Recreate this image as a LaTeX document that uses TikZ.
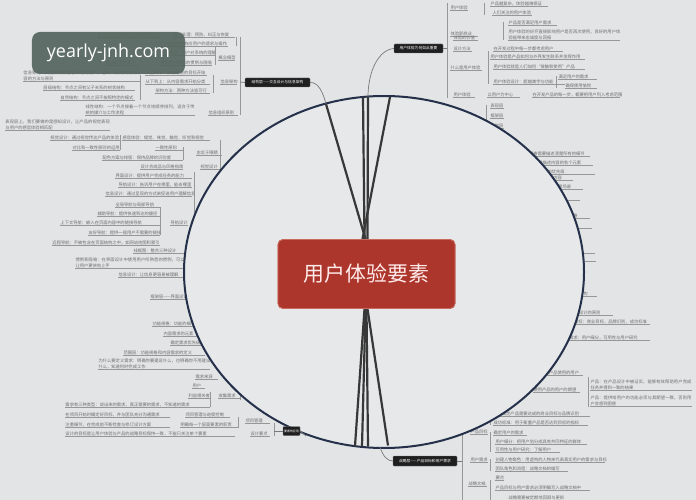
\documentclass[tikz,border=0pt]{standalone}
\usepackage{fontspec}
\newfontfamily\cjk{Noto Sans CJK SC}
\newfontfamily\wmf{Open Sans}
\XeTeXlinebreaklocale "zh"
\XeTeXlinebreakskip = 0pt plus 1pt
\definecolor{bgc}{HTML}{E2E4E5}
\definecolor{ellfill}{HTML}{E6E8E9}
\definecolor{ellline}{HTML}{25304A}
\definecolor{itemc}{HTML}{6E6E6E}
\definecolor{ulc}{HTML}{979797}
\definecolor{corec}{HTML}{383838}
\definecolor{redc}{HTML}{AC362B}
\definecolor{redb}{HTML}{C96A5E}
\definecolor{wmc}{HTML}{56665F}
\tikzset{
  itm/.style={font=\cjk\fontsize{4.3}{5.4}\selectfont, text=itemc, inner sep=0.3bp, anchor=south west},
  uln/.style={draw=ulc, line width=0.5bp},
  brk/.style={draw=ulc, line width=0.6bp},
  conn/.style={draw=ulc!80!black, line width=0.7bp},
  ell/.style={draw=ellline, fill=ellfill, line width=2bp},
  core/.style={draw=corec, line width=2.2bp},
  dlab/.style={fill=black!88, draw=black!55, rounded corners=0.8bp, text=white, inner sep=0pt, font=\cjk\fontsize{3.8}{4.2}\selectfont},
  centre/.style={fill=redc, draw=redb, line width=0.8bp, rounded corners=5bp, minimum width=177bp, minimum height=69bp, text=white!92!red, font=\cjk\fontsize{21}{24}\selectfont},
  wmark/.style={fill=wmc, fill opacity=0.93, text opacity=1, rounded corners=8bp, minimum width=153bp, minimum height=42bp, text=white, font=\wmf\fontsize{18}{20}\selectfont}
}
\newcommand\I[5]{\node[itm] (#1) at (#2,#3) {#5}; \draw[uln] (#1.south west) -- ++(#4,0);}
\newcommand\II[5]{\node[itm, text width=#4bp, align=left] (#1) at (#2,#3) {#5}; \draw[uln] (#1.south west) -- ++(#4,0);}
\newcommand\B[3]{\draw[brk] (#1,#2) -- (#1,#3);}
\begin{document}
\begin{tikzpicture}[x=1bp,y=-1bp]
\useasboundingbox (0,0) rectangle (696,500);
\fill[bgc] (0,0) rectangle (696,500);
% ---------- top-left cluster
\I{i1}{97}{37}{63}{交互设计关注描述可能的用户行为}
\I{i2}{173}{37}{62}{错误处理：预防、纠正与恢复}
\I{i3}{158}{46}{70}{定义系统如何响应用户的请求与操作}
\I{i4}{160}{55}{55}{概念模型：用户对系统的理解}
\I{i5}{218}{60}{17}{概念模型}
\I{i6}{160}{65}{52}{使用用户熟悉的惯例与隐喻}
\I{i7}{105}{65}{32}{错误处理方式}
\II{i8}{23}{81}{117}{信息架构：关注如何将信息表达给用户，组织、分类和排列内容的方法与原则}
\I{i9}{145}{75}{62}{从上到下：从战略层的目标开始}
\I{i10}{145}{84}{65}{从下到上：从内容需求开始分类}
\I{i11}{220}{84}{17}{信息架构}
\I{i12}{43}{90}{92}{层级结构：节点之间有父子关系的树状结构}
\I{i13}{155}{93}{55}{架构方法：两种方法皆可行}
\I{i14}{60}{100}{75}{自然结构：节点之间不按照特定的模式}
\II{i15}{85}{115}{110}{线性结构：一个节点接着一个节点地顺序排列，适合于传统的媒介与工作流程}
\I{i16}{208}{115}{30}{信息组织原则}
\B{240}{37}{115}
\B{236}{37}{46}
\B{215}{46}{65}
\B{213}{75}{93}
\B{140}{75}{100}
% ---------- left middle
\II{i17}{5}{130}{105}{表现层上，我们要做的是感知设计，让产品的视觉表现与用户的感官体验相匹配}
\I{i18}{50}{140}{70}{视觉设计：通过视觉传达产品的体验}
\I{i19}{122}{140}{88}{感官体验：嗅觉、味觉、触觉、听觉和视觉}
\I{i20}{72}{150}{48}{对比和一致性原则的运用}
\I{i21}{155}{150}{28}{一致性原则}
\I{i22}{196}{155}{26}{忠实于眼睛}
\I{i23}{102}{160}{81}{配色方案与排版：保持品牌的识别度}
\I{i24}{140}{169}{43}{设计合成品与风格指南}
\I{i25}{200}{169}{20}{视觉设计}
\I{i26}{115}{178}{77}{界面设计：提供用户完成任务的能力}
\I{i27}{118}{187}{74}{导航设计：告诉用户在哪里，能去哪里}
\I{i28}{105}{196}{87}{信息设计：通过呈现的方式来促进用户理解信息}
\I{i29}{115}{207}{45}{全局导航与局部导航}
\I{i30}{97}{216}{63}{辅助导航：提供快速到达的捷径}
\I{i31}{60}{225}{100}{上下文导航：嵌入在页面内容中的链接导航}
\I{i32}{170}{225}{18}{导航设计}
\I{i33}{88}{235}{72}{友好导航：提供一般用户不需要的链接}
\I{i34}{52}{245}{108}{远程导航：不被包含在页面结构之中，如网站地图和索引}
\I{i35}{133}{253}{52}{线框图：整合三种设计}
\II{i36}{75}{268}{110}{惯例和隐喻：在界面设计中使用用户所熟悉的惯例，可以让用户更快地上手}
\I{i37}{118}{277}{67}{信息设计：让信息更容易被理解}
\I{i38}{150}{299}{45}{框架层——界面设计}
\B{120}{135}{150}
\B{183}{147}{160}
\B{220}{140}{172}
\B{194}{172}{240}
\B{160}{207}{235}
\B{185}{250}{278}
% ---------- lower left
\I{i39}{152}{326}{44}{功能规格：功能的细节}
\I{i40}{163}{336}{37}{内容需求的元素}
\I{i41}{170}{345}{35}{确定需求优先级}
\I{i42}{123}{355}{82}{范围层：功能规格和内容需求的定义}
\II{i43}{98}{369}{112}{为什么要定义需求：明确你要建设什么，也明确你不用建设什么，知道何时完成工作}
\I{i44}{195}{379}{23}{需求来源}
\I{i45}{192}{388}{13}{用户}
\I{i46}{188}{398}{22}{利益相关者}
\I{i47}{218}{398}{22}{收集需求}
\I{i48}{65}{407}{145}{需求有三种类型：说出来的需求，真正需要的需求，不知道的需求}
\I{i49}{65}{417}{105}{在项目开始时确定好目标，并与团队充分沟通需求}
\I{i50}{185}{417}{45}{项目管理与进度控制}
\I{i51}{245}{423}{25}{项目管理}
\I{i52}{65}{427}{105}{注重细节，在完成前不断检查与修订设计方案}
\I{i53}{180}{427}{58}{明确每一个层面要素的职责}
\I{i54}{65}{436}{170}{设计的目标是让用户体验与产品的战略目标保持一致，不能只关注单个要素}
\I{i55}{250}{436}{20}{设计要点}
\B{210}{392}{407}
\B{238}{417}{428}
\B{240}{392}{400}
\B{274}{423}{436}
% ---------- top right
\I{i56}{450}{10}{18}{用户体验}
\I{i57}{490}{6}{58}{产品越复杂，体验越难保证}
\I{i58}{492}{15}{40}{人们关注的用户体验}
\I{i59}{450}{36}{28}{体验即商业}
\I{i60}{508}{25}{49}{产品是否满足用户需求}
\II{i61}{508}{40}{112}{用户体验的好坏直接影响用户是否再次使用，良好的用户体验能带来忠诚度与回报}
\I{i62}{453}{40}{25}{体验的价值}
\I{i63}{453}{51}{19}{设计方法}
\I{i64}{493}{51}{70}{在开发过程中每一步都考虑用户}
\I{i65}{490}{59}{95}{用户体验是产品如何与外界发生联系并发挥作用}
\I{i66}{493}{69}{92}{用户体验就是人们如何“接触和使用”产品}
\I{i67}{450}{70}{32}{什么是用户体验}
\I{i68}{493}{84}{72}{用户体验设计：超越美学与功能}
\I{i69}{558}{79}{39}{满足用户的需求}
\I{i70}{565}{88}{32}{确保使用愉悦}
\I{i71}{453}{97}{22}{用户体验}
\I{i72}{487}{97}{33}{以用户为中心}
\I{i73}{532}{97}{88}{在开发产品的每一步，都要把用户列入考虑范围}
\I{i74}{490}{108}{14}{表现层}
\I{i75}{490}{118}{14}{框架层}
\I{i76}{490}{128}{14}{结构层}
\B{447}{3}{98}
\B{484}{3}{15}
\B{503}{22}{40}
\B{488}{51}{84}
\B{556}{76}{88}
\B{486}{105}{140}
% ---------- right (partly under the ellipse)
\I{i77}{520}{156}{70}{功能规格需要描述清楚所有的细节}
\I{i78}{525}{165}{68}{内容需求描述内容的各个元素}
\I{i79}{530}{174}{65}{确定需求的优先级}
\I{i80}{540}{180}{33}{功能与内容}
\I{i81}{545}{189}{38}{用户使用场景}
\I{i82}{550}{200}{30}{优先级}
\I{i83}{560}{218}{30}{功能规格}
\I{i84}{565}{228}{27}{范围}
\I{i85}{570}{253}{25}{范围层}
\I{i86}{570}{261}{26}{内容}
\I{i87}{570}{296}{27}{信息架构}
\I{i88}{570}{315}{43}{交互设计的原则}
\I{i89}{565}{324}{85}{产品目标：商业目标，品牌识别，成功标准}
\I{i90}{560}{340}{90}{用户需求：用户细分，可用性与用户研究}
\I{i91}{540}{375}{43}{影响产品使用的用户}
\II{i92}{590}{390}{102}{产品：在产品设计中被证实，能够有效帮助用户完成任务并得到一致的结果}
\I{i93}{533}{392}{47}{使用产品的用户的期望}
\II{i94}{590}{406}{102}{产品：提供给用户的功能必须与其期望一致，否则用户会感到困惑}
\I{i95}{480}{416}{110}{产品目标：确定产品需要达成的商业目标与品牌识别}
\I{i96}{493}{425}{95}{成功标准：用于衡量产品是否达到目标的指标}
\I{i97}{470}{434}{18}{产品目标}
\I{i98}{493}{435}{34}{确定用户的需求}
\I{i99}{495}{444}{92}{用户细分：把用户划分成具有共同特征的群体}
\I{i100}{495}{452}{65}{可用性与用户研究：了解用户}
\I{i101}{495}{462}{110}{创建人物角色：用虚构的人物来代表真实用户的需求与目标}
\I{i102}{470}{462}{18}{用户需求}
\I{i103}{495}{471}{73}{团队角色和流程：战略文档的编写}
\I{i104}{495}{480}{9}{要点}
\I{i105}{495}{490}{95}{产品目标与用户需求必须明确写入战略文档中}
\I{i106}{468}{486}{19}{战略文档}
\I{i107}{508}{500}{65}{战略需要被定期地回顾与更新}
\B{588}{377}{407}
\B{462}{405}{500}
\B{490}{413}{425}
\B{490}{432}{452}
\B{490}{459}{471}
\B{490}{480}{500}
% ---------- ellipse overlay
\draw[ell] (384,272) ellipse [x radius=200bp, y radius=176bp];
% ---------- centre node and core lines
\coordinate (t1) at (326,104);
\coordinate (t2) at (363,97.5);
\coordinate (t3) at (368,97);
\coordinate (t4) at (390,97);
\coordinate (b1) at (355,446);
\coordinate (b2) at (362,446.5);
\coordinate (b3) at (368,446.5);
\coordinate (b4) at (388,445.5);
\node[centre] (c) at (366.5,274) {用户体验要素};
\draw[core] (t1) -- ([xshift=-1bp]c.north);
\draw[core] (t2) -- ([xshift=-2bp]c.north);
\draw[core] (t3) -- ([xshift=1bp]c.north);
\draw[core] (t4) -- ([xshift=-4bp]c.north);
\draw[core] ([xshift=-2bp]c.south) -- (b1);
\draw[core] ([xshift=-1bp]c.south) -- (b2);
\draw[core] ([xshift=0bp]c.south) -- (b3);
\draw[core] ([xshift=1bp]c.south) -- (b4);
\node[centre] (c2) at (366.5,274) {用户体验要素};
% ---------- branch labels
\node[dlab, minimum width=65bp, minimum height=9bp] (L1) at (277.5,82.5) {结构层——交互设计与信息架构};
\node[dlab, minimum width=49bp, minimum height=9bp] (L2) at (418.5,48.5) {用户体验为何如此重要};
\node[dlab, minimum width=64bp, minimum height=10bp] (L3) at (425,461) {战略层——产品目标和用户需求};
\node[dlab, minimum width=17bp, minimum height=9bp, font=\cjk\fontsize{3}{3.4}\selectfont] (L4) at (291.5,431) {要素的应用};
\coordinate (e3) at (380,447);
\coordinate (e4) at (306,436);
\draw[conn] (L1.east) .. controls (318,82) and (323,92) .. (t1);
\draw[conn] (L2.west) .. controls (378,50) and (368,72) .. (t3);
\draw[conn] (e3) .. controls (383,456) and (387,461) .. (L3.west);
\draw[conn] (L4.east) -- (e4);
\draw[conn] (240,82) -- (L1.west);
\draw[conn] (447,48.5) -- (L2.east);
\draw[conn] (462,461) -- (L3.east);
\draw[conn] (274,431) -- (L4.west);
% ---------- watermark
\node[wmark] (w) at (108.5,53) {yearly-jnh.com};
\end{tikzpicture}
\end{document}
